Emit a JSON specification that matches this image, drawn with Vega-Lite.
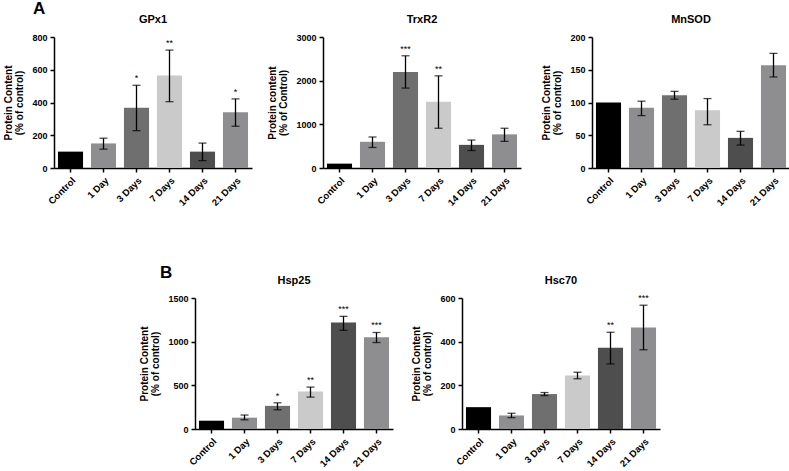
{
  "$schema": "https://vega.github.io/schema/vega-lite/v6.json",
  "background": "white",
  "padding": {"left": 3, "top": 0, "right": 0, "bottom": 0},
  "datasets": {
    "d": [
      {"protein": "GPx1", "group": "Control", "mean": 100, "lo": null, "hi": null, "sig": ""},
      {"protein": "GPx1", "group": "1 Day", "mean": 150, "lo": 115, "hi": 182, "sig": ""},
      {"protein": "GPx1", "group": "3 Days", "mean": 368, "lo": 228, "hi": 505, "sig": "*"},
      {"protein": "GPx1", "group": "7 Days", "mean": 565, "lo": 405, "hi": 720, "sig": "**"},
      {"protein": "GPx1", "group": "14 Days", "mean": 100, "lo": 45, "hi": 152, "sig": ""},
      {"protein": "GPx1", "group": "21 Days", "mean": 340, "lo": 255, "hi": 422, "sig": "*"},
      {"protein": "TrxR2", "group": "Control", "mean": 100, "lo": null, "hi": null, "sig": ""},
      {"protein": "TrxR2", "group": "1 Day", "mean": 600, "lo": 470, "hi": 710, "sig": ""},
      {"protein": "TrxR2", "group": "3 Days", "mean": 2200, "lo": 1830, "hi": 2570, "sig": "***"},
      {"protein": "TrxR2", "group": "7 Days", "mean": 1520, "lo": 910, "hi": 2110, "sig": "**"},
      {"protein": "TrxR2", "group": "14 Days", "mean": 530, "lo": 400, "hi": 640, "sig": ""},
      {"protein": "TrxR2", "group": "21 Days", "mean": 770, "lo": 610, "hi": 910, "sig": ""},
      {"protein": "MnSOD", "group": "Control", "mean": 100, "lo": null, "hi": null, "sig": ""},
      {"protein": "MnSOD", "group": "1 Day", "mean": 92, "lo": 80, "hi": 102, "sig": ""},
      {"protein": "MnSOD", "group": "3 Days", "mean": 111, "lo": 105, "hi": 117, "sig": ""},
      {"protein": "MnSOD", "group": "7 Days", "mean": 88, "lo": 66, "hi": 106, "sig": ""},
      {"protein": "MnSOD", "group": "14 Days", "mean": 46, "lo": 35, "hi": 56, "sig": ""},
      {"protein": "MnSOD", "group": "21 Days", "mean": 157, "lo": 139, "hi": 175, "sig": ""},
      {"protein": "Hsp25", "group": "Control", "mean": 95, "lo": null, "hi": null, "sig": ""},
      {"protein": "Hsp25", "group": "1 Day", "mean": 130, "lo": 105, "hi": 160, "sig": ""},
      {"protein": "Hsp25", "group": "3 Days", "mean": 265, "lo": 220, "hi": 300, "sig": "*"},
      {"protein": "Hsp25", "group": "7 Days", "mean": 430, "lo": 365, "hi": 480, "sig": "**"},
      {"protein": "Hsp25", "group": "14 Days", "mean": 1220, "lo": 1130, "hi": 1290, "sig": "***"},
      {"protein": "Hsp25", "group": "21 Days", "mean": 1050, "lo": 990, "hi": 1105, "sig": "***"},
      {"protein": "Hsc70", "group": "Control", "mean": 100, "lo": null, "hi": null, "sig": ""},
      {"protein": "Hsc70", "group": "1 Day", "mean": 62, "lo": 52, "hi": 72, "sig": ""},
      {"protein": "Hsc70", "group": "3 Days", "mean": 160, "lo": 153, "hi": 167, "sig": ""},
      {"protein": "Hsc70", "group": "7 Days", "mean": 245, "lo": 230, "hi": 260, "sig": ""},
      {"protein": "Hsc70", "group": "14 Days", "mean": 372, "lo": 298, "hi": 443, "sig": "**"},
      {"protein": "Hsc70", "group": "21 Days", "mean": 465, "lo": 363, "hi": 567, "sig": "***"}
    ]
  },
  "vconcat": [
    {
      "title": {"text": "A", "anchor": "start", "frame": "bounds", "fontSize": 17, "fontWeight": "bold", "dx": 29, "dy": 12},
      "spacing": 71,
      "bounds": "flush",
      "hconcat": [
        {
          "title": {"text": "GPx1"},
          "width": 198, "height": 131,
          "data": {"name": "d"},
          "transform": [{"filter": "datum.protein === 'GPx1'"}],
          "encoding": {"x": {"field": "group", "type": "nominal", "sort": ["Control", "1 Day", "3 Days", "7 Days", "14 Days", "21 Days"], "scale": {"paddingInner": 0.24, "paddingOuter": 0.12}, "axis": {"title": null}}},
          "layer": [
            {"mark": {"type": "bar"}, "encoding": {"y": {"field": "mean", "type": "quantitative", "scale": {"domain": [0, 800], "nice": false}, "axis": {"values": [0, 200, 400, 600, 800], "tickCount": 10, "format": "d", "title": ["Protein Content", "(% of control)"]}}, "color": {"field": "group", "type": "nominal", "scale": {"domain": ["Control", "1 Day", "3 Days", "7 Days", "14 Days", "21 Days"], "range": ["#000000", "#8e8e91", "#6f6f6f", "#cacaca", "#4e4e4e", "#8e8e91"]}, "legend": null}}},
            {"mark": {"type": "rule", "color": "black", "strokeWidth": 1.3}, "encoding": {"y": {"field": "lo", "type": "quantitative"}, "y2": {"field": "hi"}}},
            {"mark": {"type": "tick", "color": "black", "thickness": 1.3, "size": 8}, "encoding": {"y": {"field": "lo", "type": "quantitative"}}},
            {"mark": {"type": "tick", "color": "black", "thickness": 1.3, "size": 8}, "encoding": {"y": {"field": "hi", "type": "quantitative"}}},
            {"mark": {"type": "text", "fontSize": 9, "dy": -2, "baseline": "bottom", "color": "black"}, "encoding": {"y": {"field": "hi", "type": "quantitative"}, "text": {"field": "sig"}}}
          ]
        },
        {
          "title": {"text": "TrxR2"},
          "width": 198, "height": 131,
          "data": {"name": "d"},
          "transform": [{"filter": "datum.protein === 'TrxR2'"}],
          "encoding": {"x": {"field": "group", "type": "nominal", "sort": ["Control", "1 Day", "3 Days", "7 Days", "14 Days", "21 Days"], "scale": {"paddingInner": 0.24, "paddingOuter": 0.12}, "axis": {"title": null}}},
          "layer": [
            {"mark": {"type": "bar"}, "encoding": {"y": {"field": "mean", "type": "quantitative", "scale": {"domain": [0, 3000], "nice": false}, "axis": {"values": [0, 1000, 2000, 3000], "tickCount": 10, "format": "d", "title": ["Protein content", "(% of Control)"]}}, "color": {"field": "group", "type": "nominal", "scale": {"domain": ["Control", "1 Day", "3 Days", "7 Days", "14 Days", "21 Days"], "range": ["#000000", "#8e8e91", "#6f6f6f", "#cacaca", "#4e4e4e", "#8e8e91"]}, "legend": null}}},
            {"mark": {"type": "rule", "color": "black", "strokeWidth": 1.3}, "encoding": {"y": {"field": "lo", "type": "quantitative"}, "y2": {"field": "hi"}}},
            {"mark": {"type": "tick", "color": "black", "thickness": 1.3, "size": 8}, "encoding": {"y": {"field": "lo", "type": "quantitative"}}},
            {"mark": {"type": "tick", "color": "black", "thickness": 1.3, "size": 8}, "encoding": {"y": {"field": "hi", "type": "quantitative"}}},
            {"mark": {"type": "text", "fontSize": 9, "dy": -2, "baseline": "bottom", "color": "black"}, "encoding": {"y": {"field": "hi", "type": "quantitative"}, "text": {"field": "sig"}}}
          ]
        },
        {
          "title": {"text": "MnSOD"},
          "width": 198, "height": 131,
          "data": {"name": "d"},
          "transform": [{"filter": "datum.protein === 'MnSOD'"}],
          "encoding": {"x": {"field": "group", "type": "nominal", "sort": ["Control", "1 Day", "3 Days", "7 Days", "14 Days", "21 Days"], "scale": {"paddingInner": 0.24, "paddingOuter": 0.12}, "axis": {"title": null}}},
          "layer": [
            {"mark": {"type": "bar"}, "encoding": {"y": {"field": "mean", "type": "quantitative", "scale": {"domain": [0, 200], "nice": false}, "axis": {"values": [0, 50, 100, 150, 200], "tickCount": 10, "format": "d", "title": ["Protein Content", "(% of control)"]}}, "color": {"field": "group", "type": "nominal", "scale": {"domain": ["Control", "1 Day", "3 Days", "7 Days", "14 Days", "21 Days"], "range": ["#000000", "#8e8e91", "#6f6f6f", "#cacaca", "#4e4e4e", "#8e8e91"]}, "legend": null}}},
            {"mark": {"type": "rule", "color": "black", "strokeWidth": 1.3}, "encoding": {"y": {"field": "lo", "type": "quantitative"}, "y2": {"field": "hi"}}},
            {"mark": {"type": "tick", "color": "black", "thickness": 1.3, "size": 8}, "encoding": {"y": {"field": "lo", "type": "quantitative"}}},
            {"mark": {"type": "tick", "color": "black", "thickness": 1.3, "size": 8}, "encoding": {"y": {"field": "hi", "type": "quantitative"}}}
          ]
        }
      ]
    },
    {
      "title": {"text": "B", "anchor": "start", "frame": "group", "fontSize": 17, "fontWeight": "bold", "dx": 106, "dy": 15},
      "spacing": 69,
      "bounds": "flush",
      "hconcat": [
        {"width": 72, "height": 131, "data": {"values": []}, "mark": "point"},
        {
          "title": {"text": "Hsp25"},
          "width": 198, "height": 131,
          "data": {"name": "d"},
          "transform": [{"filter": "datum.protein === 'Hsp25'"}],
          "encoding": {"x": {"field": "group", "type": "nominal", "sort": ["Control", "1 Day", "3 Days", "7 Days", "14 Days", "21 Days"], "scale": {"paddingInner": 0.24, "paddingOuter": 0.12}, "axis": {"title": null}}},
          "layer": [
            {"mark": {"type": "bar"}, "encoding": {"y": {"field": "mean", "type": "quantitative", "scale": {"domain": [0, 1500], "nice": false}, "axis": {"values": [0, 500, 1000, 1500], "tickCount": 10, "format": "d", "title": ["Protein Content", "(% of control)"]}}, "color": {"field": "group", "type": "nominal", "scale": {"domain": ["Control", "1 Day", "3 Days", "7 Days", "14 Days", "21 Days"], "range": ["#000000", "#8e8e91", "#6f6f6f", "#cacaca", "#4e4e4e", "#8e8e91"]}, "legend": null}}},
            {"mark": {"type": "rule", "color": "black", "strokeWidth": 1.3}, "encoding": {"y": {"field": "lo", "type": "quantitative"}, "y2": {"field": "hi"}}},
            {"mark": {"type": "tick", "color": "black", "thickness": 1.3, "size": 8}, "encoding": {"y": {"field": "lo", "type": "quantitative"}}},
            {"mark": {"type": "tick", "color": "black", "thickness": 1.3, "size": 8}, "encoding": {"y": {"field": "hi", "type": "quantitative"}}},
            {"mark": {"type": "text", "fontSize": 9, "dy": -2, "baseline": "bottom", "color": "black"}, "encoding": {"y": {"field": "hi", "type": "quantitative"}, "text": {"field": "sig"}}}
          ]
        },
        {
          "title": {"text": "Hsc70"},
          "width": 198, "height": 131,
          "data": {"name": "d"},
          "transform": [{"filter": "datum.protein === 'Hsc70'"}],
          "encoding": {"x": {"field": "group", "type": "nominal", "sort": ["Control", "1 Day", "3 Days", "7 Days", "14 Days", "21 Days"], "scale": {"paddingInner": 0.24, "paddingOuter": 0.12}, "axis": {"title": null}}},
          "layer": [
            {"mark": {"type": "bar"}, "encoding": {"y": {"field": "mean", "type": "quantitative", "scale": {"domain": [0, 600], "nice": false}, "axis": {"values": [0, 200, 400, 600], "tickCount": 10, "format": "d", "title": ["Protein Content", "(% of control)"]}}, "color": {"field": "group", "type": "nominal", "scale": {"domain": ["Control", "1 Day", "3 Days", "7 Days", "14 Days", "21 Days"], "range": ["#000000", "#8e8e91", "#6f6f6f", "#cacaca", "#4e4e4e", "#8e8e91"]}, "legend": null}}},
            {"mark": {"type": "rule", "color": "black", "strokeWidth": 1.3}, "encoding": {"y": {"field": "lo", "type": "quantitative"}, "y2": {"field": "hi"}}},
            {"mark": {"type": "tick", "color": "black", "thickness": 1.3, "size": 8}, "encoding": {"y": {"field": "lo", "type": "quantitative"}}},
            {"mark": {"type": "tick", "color": "black", "thickness": 1.3, "size": 8}, "encoding": {"y": {"field": "hi", "type": "quantitative"}}},
            {"mark": {"type": "text", "fontSize": 9, "dy": -2, "baseline": "bottom", "color": "black"}, "encoding": {"y": {"field": "hi", "type": "quantitative"}, "text": {"field": "sig"}}}
          ]
        }
      ]
    }
  ],
  "spacing": 56,
  "config": {
    "font": "Liberation Sans",
    "view": {"stroke": null},
    "axis": {"domainColor": "black", "domainWidth": 1.5, "tickColor": "black", "tickWidth": 1.5, "tickSize": 4, "labelColor": "black", "labelFont": "Liberation Sans", "labelFontSize": 9, "labelFontWeight": "bold", "labelPadding": 3, "labelOverlap": false, "titleFont": "Liberation Sans", "titleFontSize": 10, "titleFontWeight": "bold", "titleColor": "black", "titleLineHeight": 11, "grid": false},
    "axisX": {"labelAngle": -45, "labelFontSize": 9.5},
    "axisY": {"titlePadding": 7},
    "title": {"font": "Liberation Sans", "fontSize": 11, "fontWeight": "bold", "color": "black", "offset": 8}
  }
}
